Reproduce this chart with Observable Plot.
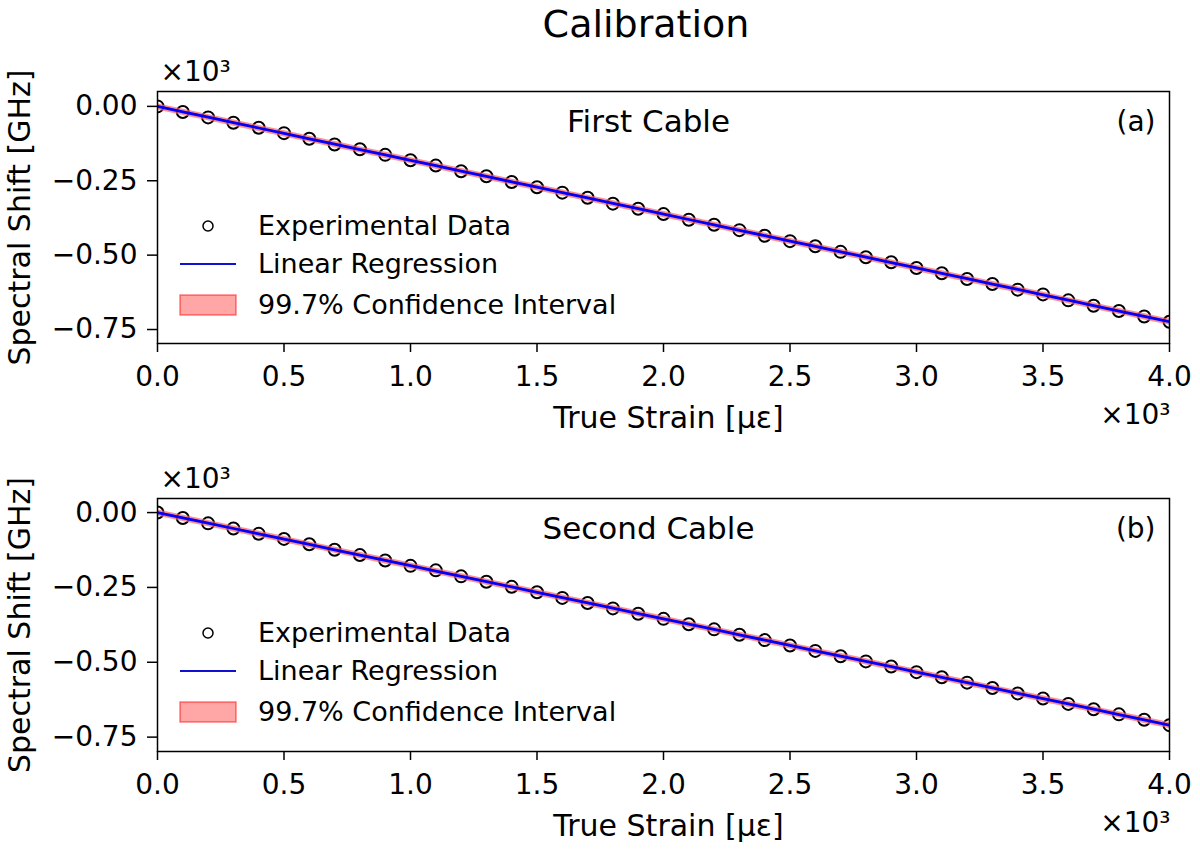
<!DOCTYPE html>
<html>
<head>
<meta charset="utf-8">
<script src="https://cdn.jsdelivr.net/npm/d3@7"></script>
<script src="https://cdn.jsdelivr.net/npm/@observablehq/plot@0.6"></script>
<style>
  html, body { margin: 0; padding: 0; background: white; }
  #root { position: relative; width: 1200px; height: 850px; font-family: "DejaVu Sans", sans-serif; background: white; }
  #title { position: absolute; left: 646px; top: 2px; transform: translateX(-50%); font-size: 38px; line-height: 44px; color: black; white-space: nowrap; z-index: 10; }
  .panel { position: absolute; left: 0; }
</style>
</head>
<body>
<div id="root">
  <div id="p1" class="panel" style="top:0px"></div>
  <div id="p2" class="panel" style="top:425px"></div>
  <div id="title">Calibration</div>
</div>
<script>
// ---- data (strain in ×10³ με, shift in ×10³ GHz) ----
const strain = [0.0, 0.1, 0.2, 0.3, 0.4, 0.5, 0.6, 0.7, 0.8, 0.9, 1.0, 1.1, 1.2, 1.3, 1.4, 1.5, 1.6, 1.7, 1.8, 1.9, 2.0,
                2.1, 2.2, 2.3, 2.4, 2.5, 2.6, 2.7, 2.8, 2.9, 3.0, 3.1, 3.2, 3.3, 3.4, 3.5, 3.6, 3.7, 3.8, 3.9, 4.0];
const shiftFirst = [0.000, -0.019, -0.037, -0.055, -0.072, -0.090, -0.109, -0.128, -0.144, -0.163, -0.181,
                    -0.199, -0.218, -0.235, -0.254, -0.272, -0.290, -0.307, -0.327, -0.344, -0.362,
                    -0.381, -0.398, -0.416, -0.435, -0.453, -0.470, -0.489, -0.507, -0.524, -0.543,
                    -0.561, -0.580, -0.597, -0.616, -0.632, -0.652, -0.670, -0.688, -0.706, -0.724];
const shiftSecond = [0.000, -0.018, -0.036, -0.053, -0.071, -0.088, -0.106, -0.124, -0.142, -0.160, -0.178,
                     -0.193, -0.213, -0.231, -0.248, -0.266, -0.285, -0.302, -0.320, -0.338, -0.355,
                     -0.373, -0.390, -0.408, -0.426, -0.444, -0.462, -0.480, -0.497, -0.514, -0.533,
                     -0.550, -0.568, -0.586, -0.604, -0.621, -0.639, -0.657, -0.674, -0.692, -0.710];
const xTicks = [0.0, 0.5, 1.0, 1.5, 2.0, 2.5, 3.0, 3.5, 4.0];
const yTicks = [0.00, -0.25, -0.50, -0.75];
const panelNames = ["First Cable", "Second Cable"];
const panelTags = ["(a)", "(b)"];
const legendLabels = ["Experimental Data", "Linear Regression", "99.7% Confidence Interval"];
const xLabel = "True Strain [με]";
const yLabel = "Spectral Shift [GHz]";
const multiplier = "×10³";

function regression(xs, ys) {
  const n = xs.length;
  const mx = d3.mean(xs), my = d3.mean(ys);
  let sxx = 0, sxy = 0;
  for (let i = 0; i < n; i++) { sxx += (xs[i] - mx) ** 2; sxy += (xs[i] - mx) * (ys[i] - my); }
  const b = sxy / sxx, a = my - b * mx;
  let sse = 0;
  for (let i = 0; i < n; i++) sse += (ys[i] - (a + b * xs[i])) ** 2;
  const s = Math.sqrt(sse / (n - 2));
  const z = 3;
  return xs.map(x => {
    const f = a + b * x;
    const se = s * Math.sqrt(1 / n + (x - mx) ** 2 / sxx);
    return {x, fit: f, lo: f - z * se, hi: f + z * se};
  });
}

function panel(el, values, idx, yDomain, mTop, mBottom) {
  const pts = strain.map((x, i) => ({x, y: values[i]}));
  const band = regression(strain, values);
  const H = 425;
  const svg = Plot.plot({
    width: 1200, height: H,
    marginLeft: 157, marginRight: 31, marginTop: mTop, marginBottom: mBottom,
    x: {domain: [0, 4], label: null},
    y: {domain: yDomain, label: null},
    style: {fontFamily: "DejaVu Sans", fontSize: "28px", color: "black", background: "transparent", overflow: "visible"},
    marks: [
      Plot.dot(pts, {x: "x", y: "y", r: 6, stroke: "black", strokeWidth: 2, fill: "none", clip: true}),
      Plot.line(band, {x: "x", y: "hi", stroke: "#ff6060", strokeOpacity: 0.45, strokeWidth: 6, clip: true}),
      Plot.line(band, {x: "x", y: "lo", stroke: "#ff6060", strokeOpacity: 0.45, strokeWidth: 6, clip: true}),
      Plot.areaY(band, {x: "x", y1: "lo", y2: "hi", fill: "red", fillOpacity: 0.35, stroke: "red", strokeOpacity: 0.45, strokeWidth: 1.5, clip: true}),
      Plot.line(band, {x: "x", y: "fit", stroke: "blue", strokeWidth: 2.8, clip: true}),
      Plot.axisX({ticks: xTicks, tickFormat: ".1f", tickSize: 9, tickPadding: 14, strokeWidth: 1.5, label: null}),
      Plot.axisY({ticks: yTicks, tickFormat: ".2f", tickSize: 10, tickPadding: 10, strokeWidth: 1.5, label: null}),
      Plot.frame({stroke: "black", strokeWidth: 1.5}),
      Plot.text([panelNames[idx]], {frameAnchor: "top", dx: -15, dy: 31, fontSize: 31, textAnchor: "middle", lineAnchor: "middle", fill: "black"}),
      Plot.text([panelTags[idx]], {frameAnchor: "top-right", dx: -14, dy: 31, fontSize: 28, textAnchor: "end", lineAnchor: "middle", fill: "black"}),
      Plot.text([multiplier], {frameAnchor: "top-left", dx: 3, dy: -19, fontSize: 28, textAnchor: "start", lineAnchor: "middle", fill: "black"}),
      Plot.text([multiplier], {frameAnchor: "bottom-right", dx: 1, dy: 72, fontSize: 28, textAnchor: "end", lineAnchor: "middle", fill: "black"}),
      Plot.text([xLabel], {frameAnchor: "bottom", dx: 5, dy: 75, fontSize: 30, textAnchor: "middle", lineAnchor: "middle", fill: "black"}),
      Plot.text([yLabel], {frameAnchor: "left", dx: -137, rotate: -90, fontSize: 30, textAnchor: "middle", lineAnchor: "middle", fill: "black"})
    ]
  });
  // legend (inside the frame, upper-left area)
  const g = d3.select(svg).append("g").attr("font-family", "DejaVu Sans").attr("font-size", 27).attr("text-anchor", "start");
  const fx = 157, fy = mTop;
  const rows = [135, 173, 214];
  g.append("circle").attr("cx", fx + 51).attr("cy", fy + rows[0]).attr("r", 5).attr("fill", "none").attr("stroke", "black").attr("stroke-width", 1.5);
  g.append("line").attr("x1", fx + 23).attr("x2", fx + 79).attr("y1", fy + rows[1]).attr("y2", fy + rows[1]).attr("stroke", "#1010d0").attr("stroke-width", 2);
  g.append("rect").attr("x", fx + 23).attr("y", fy + rows[2] - 10).attr("width", 56).attr("height", 20)
    .attr("fill", "red").attr("fill-opacity", 0.35).attr("stroke", "red").attr("stroke-opacity", 0.5).attr("stroke-width", 1.5);
  legendLabels.forEach((t, i) => {
    g.append("text").attr("x", fx + 101).attr("y", fy + rows[i]).attr("dy", "0.35em").attr("text-anchor", "start").attr("fill", "black").text(t);
  });
  el.appendChild(svg);
}

panel(document.getElementById("p1"), shiftFirst, 0, [-0.797, 0.050], 91, 82);
panel(document.getElementById("p2"), shiftSecond, 1, [-0.798, 0.047], 73, 99);
</script>
</body>
</html>
